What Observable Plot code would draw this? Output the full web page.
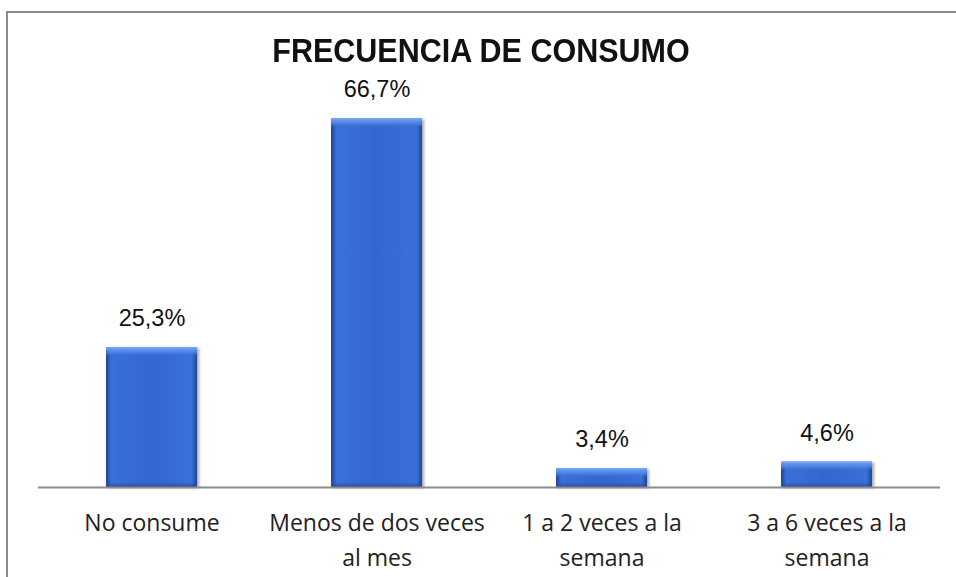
<!DOCTYPE html>
<html><head><meta charset="utf-8">
<script src="https://cdn.jsdelivr.net/npm/d3@7"></script>
<script src="https://cdn.jsdelivr.net/npm/@observablehq/plot@0.6"></script>
<style>
body{margin:0;background:#fff;}
#wrap{position:relative;width:956px;height:577px;overflow:hidden;background:#fff;}
#frame{position:absolute;left:6px;top:11px;width:1000px;height:620px;border-left:2px solid #8a8a8a;border-top:2px solid #8a8a8a;}
#title{position:absolute;left:0;width:962px;top:33px;text-align:center;font:bold 34px/1 "Liberation Sans",Arial,sans-serif;color:#111;transform:scaleX(0.897);transform-origin:481px 0;}
#chart{position:absolute;left:0;top:0;}
.bars{filter:drop-shadow(2px 1px 1.5px rgba(0,0,0,0.35));}
</style></head>
<body><div id="wrap"><div id="frame"></div><div id="title">FRECUENCIA DE CONSUMO</div><div id="chart"></div></div>
<script>
const categories = ["No consume", "Menos de dos veces al mes", "1 a 2 veces a la semana", "3 a 6 veces a la semana"];
const values = [25.3, 66.7, 3.4, 4.6];
const valueLabels = ["25,3%", "66,7%", "3,4%", "4,6%"];
const tickLabels = ["No consume", "Menos de dos veces\nal mes", "1 a 2 veces a la\nsemana", "3 a 6 veces a la\nsemana"];

const data = categories.map((c, i) => ({category: c, value: values[i], label: valueLabels[i]}));

const chart = Plot.plot({
  width: 956, height: 577,
  marginLeft: 38, marginRight: 16, marginTop: 100, marginBottom: 90,
  x: {domain: categories, paddingInner: 0.596, paddingOuter: 0.298, align: 0.5, axis: null},
  y: {domain: [0, 70], axis: null},
  style: {background: "transparent", overflow: "visible"},
  marks: [
    Plot.barY(data, {x: "category", y: "value", fill: "url(#barSide)", className: "bars"}),
    Plot.barY(data, {x: "category", y1: "value", y2: "value", insetBottom: -9, fill: "url(#barTop)"}),
    Plot.barY(data, {x: "category", y1: 0, y2: 0, insetTop: -5, fill: "url(#barBottom)"}),
    Plot.ruleY([0], {stroke: "#8c8c8c", strokeWidth: 2}),
    Plot.text(data, {x: "category", y: "value", text: "label", dy: -29, fontSize: 23.5, fontFamily: "Liberation Sans, Arial, sans-serif", fill: "#111"}),
    Plot.axisX({tickSize: 0, tickPadding: 19, tickFormat: d => tickLabels[categories.indexOf(d)], fontSize: 23, fontFamily: "Open Sans, sans-serif", lineHeight: 1.52, fill: "#222", label: null})
  ]
});

const defs = d3.select(chart).insert("defs", ":first-child");
const gSide = defs.append("linearGradient").attr("id", "barSide").attr("x1", 0).attr("x2", 1).attr("y1", 0).attr("y2", 0);
[[0, "#1f4493"], [0.06, "#3a70d9"], [0.5, "#3367cf"], [0.94, "#3a70d9"], [1, "#1f4493"]].forEach(([o, c]) => gSide.append("stop").attr("offset", o).attr("stop-color", c));
const gTop = defs.append("linearGradient").attr("id", "barTop").attr("x1", 0).attr("x2", 0).attr("y1", 0).attr("y2", 1);
[[0, "#8ab4f8", 1], [0.15, "#6a9cf0", 1], [0.6, "#4f86e4", 0.8], [1, "#3a70d9", 0]].forEach(([o, c, a]) => gTop.append("stop").attr("offset", o).attr("stop-color", c).attr("stop-opacity", a));
const gBot = defs.append("linearGradient").attr("id", "barBottom").attr("x1", 0).attr("x2", 0).attr("y1", 0).attr("y2", 1);
[[0, "#2a57b0", 0], [1, "#1f4493", 0.9]].forEach(([o, c, a]) => gBot.append("stop").attr("offset", o).attr("stop-color", c).attr("stop-opacity", a));

document.getElementById("chart").appendChild(chart);
</script>
</body></html>
